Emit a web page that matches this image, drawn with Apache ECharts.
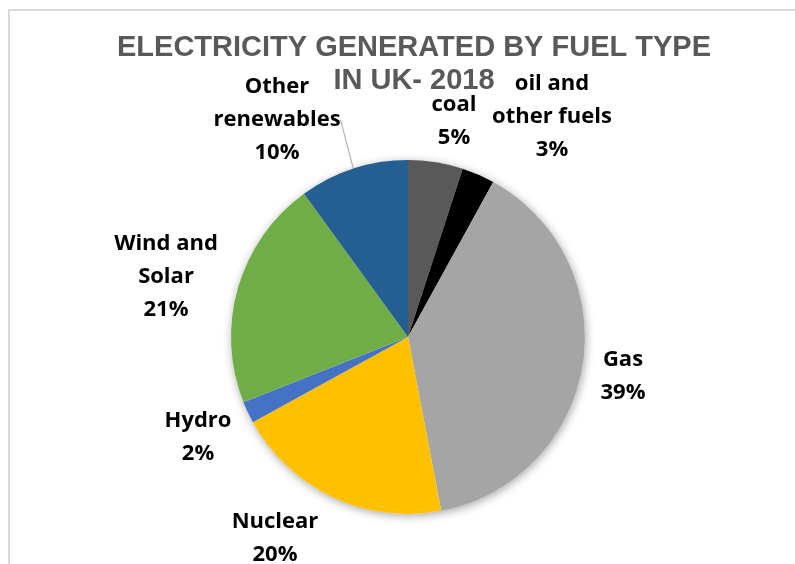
<!DOCTYPE html>
<html>
<head>
<meta charset="utf-8">
<script src="https://cdn.jsdelivr.net/npm/echarts@6/dist/echarts.min.js"></script>
<style>
  html, body { margin: 0; padding: 0; background: #ffffff; }
  #chart { width: 795px; height: 564px; }
</style>
</head>
<body>
<div id="chart"></div>
<script>
// Fuel types, clockwise from 12 o'clock
const fuels = ['coal', 'oil and\nother fuels', 'Gas', 'Nuclear', 'Hydro', 'Wind and\nSolar', 'Other\nrenewables'];
// Share of electricity generated (%)
const shares = [5, 3, 39, 20, 2, 21, 10];
const fuelColors = ['#595959', '#000000', '#a5a5a5', '#ffc000', '#4472c4', '#70ad47', '#255e91'];

// Label anchor points (label centres) for each slice
const labelSpots = [
  [454, 121], [552, 117], [623, 376], [275, 538], [198, 437], [166, 277], [277, 120]
];

const center = [408, 337];
const radius = 177;

const chart = echarts.init(document.getElementById('chart'), null, { renderer: 'canvas' });

chart.setOption({
  animation: false,
  backgroundColor: '#ffffff',
  title: {
    text: 'ELECTRICITY GENERATED BY FUEL TYPE\nIN UK- 2018',
    left: 409,
    top: 26,
    textAlign: 'center',
    textStyle: {
      fontFamily: 'Liberation Sans',
      fontWeight: 'bold',
      fontSize: 29,
      color: '#595959',
      lineHeight: 33
    }
  },
  graphic: [{
    type: 'rect',
    shape: { x: 9, y: 10, width: 800, height: 600 },
    style: { fill: 'none', stroke: '#d9d9d9', lineWidth: 2 },
    silent: true,
    z: -10
  }],
  series: [
    {
      // soft halo behind the pie
      type: 'pie',
      silent: true,
      center: center,
      radius: radius,
      z: 1,
      label: { show: false },
      labelLine: { show: false },
      itemStyle: {
        color: '#ffffff',
        shadowBlur: 10,
        shadowColor: 'rgba(0,0,0,0.35)',
        shadowOffsetX: 1,
        shadowOffsetY: 2
      },
      data: [{ value: 1 }]
    },
    {
      type: 'pie',
      center: center,
      radius: radius,
      startAngle: 90,
      clockwise: true,
      z: 2,
      itemStyle: { borderWidth: 0 },
      label: {
        show: true,
        position: 'outside',
        formatter: p => p.name + '\n' + p.value + '%',
        fontFamily: 'Open Sans',
        fontWeight: 'bold',
        fontSize: 22,
        lineHeight: 33,
        color: '#000000',
        align: 'center'
      },
      labelLine: { show: false },
      labelLayout: p => {
        const s = labelSpots[p.dataIndex];
        return { x: s[0], y: s[1], align: 'center', verticalAlign: 'middle' };
      },
      data: fuels.map((name, i) => ({
        name: name,
        value: shares[i],
        itemStyle: { color: fuelColors[i] },
        labelLine: i === 6
          ? { show: true, length: 0, length2: 0, lineStyle: { color: '#a6a6a6', width: 1 } }
          : { show: false }
      }))
    }
  ]
});
</script>
</body>
</html>
